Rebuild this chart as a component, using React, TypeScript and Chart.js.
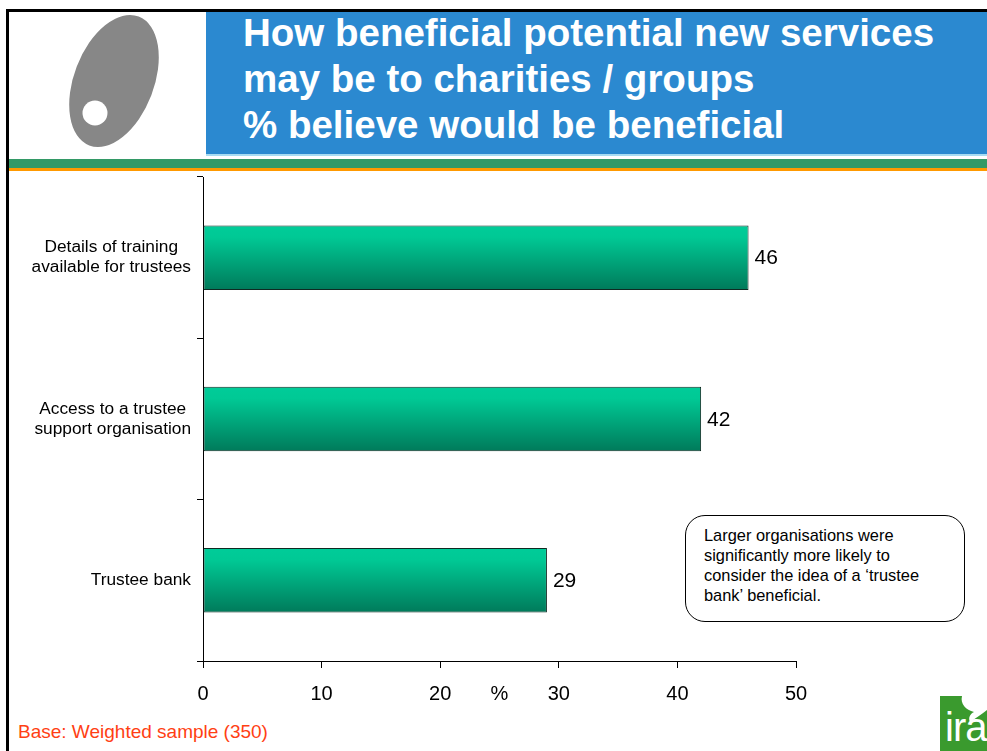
import React, { useEffect, useRef } from "react";
import { Chart, registerables } from "chart.js";

Chart.register(...registerables);

const categories: string[][] = [
  ["Details of training", "available for trustees"],
  ["Access to a trustee", "support organisation"],
  ["Trustee bank"],
];
const values: number[] = [46, 42, 29];
const xTicks: number[] = [0, 10, 20, 30, 40, 50];
const axisTitle = "%";
const titleLines: string[] = [
  "How beneficial potential new services",
  "may be to charities / groups",
  "% believe would be beneficial",
];
const noteLines: string[] = [
  "Larger organisations were",
  "significantly more likely to",
  "consider the idea of a \u2018trustee",
  "bank\u2019 beneficial.",
];
const footer = "Base: Weighted sample (350)";

const FONT = "'Liberation Sans', Arial, Helvetica, sans-serif";

export default function App() {
  const canvasRef = useRef<HTMLCanvasElement | null>(null);

  useEffect(() => {
    document.body.style.margin = "0";
    const canvas = canvasRef.current;
    if (!canvas) return;

    const labelPlugin = {
      id: "valueLabels",
      afterDatasetsDraw(chart: any) {
        const ctx = chart.ctx;
        const meta = chart.getDatasetMeta(0);
        ctx.save();
        ctx.font = `21px ${FONT}`;
        ctx.fillStyle = "#000";
        ctx.textAlign = "left";
        ctx.textBaseline = "middle";
        meta.data.forEach((bar: any, i: number) => {
          ctx.fillText(String(values[i]), bar.x + 6, bar.y + 1);
        });
        const xs = chart.scales.x;
        ctx.font = `20px ${FONT}`;
        ctx.textAlign = "center";
        ctx.fillText(axisTitle, xs.getPixelForValue(25), xs.top + 33);

        // category labels: block right-aligned, lines centred within the block
        const ys = chart.scales.y;
        ctx.font = `17.3px ${FONT}`;
        const right = ys.right - 12;
        const lh = 20;
        categories.forEach((lines, i) => {
          const cy = ys.getPixelForValue(i);
          const widest = Math.max(...lines.map((l) => ctx.measureText(l).width));
          const cx = right - widest / 2;
          const y0 = cy - ((lines.length - 1) * lh) / 2;
          lines.forEach((l, j) => ctx.fillText(l, cx, y0 + j * lh));
        });
        ctx.restore();
      },
    };

    const chart = new Chart(canvas, {
      type: "bar",
      data: {
        labels: categories,
        datasets: [
          {
            data: values,
            backgroundColor: (c: any) => {
              const ch = c.chart;
              const ys = ch.scales && ch.scales.y;
              if (!ys || c.dataIndex === undefined || !ys.height) return "#00b386";
              const center = ys.getPixelForValue(c.dataIndex);
              const half = (ys.height / categories.length) * 0.4 / 2;
              const g = ch.ctx.createLinearGradient(0, center - half, 0, center + half);
              g.addColorStop(0, "#00CC99");
              g.addColorStop(0.18, "#00C995");
              g.addColorStop(1, "#007A5A");
              return g;
            },
            borderColor: "#0f2a22",
            borderWidth: 1,
            borderSkipped: false,
            categoryPercentage: 1,
            barPercentage: 0.4,
          },
        ],
      },
      options: {
        indexAxis: "y",
        responsive: false,
        animation: false,
        layout: { padding: { top: 6, right: 191, left: 0, bottom: 0 } },
        plugins: {
          legend: { display: false },
          tooltip: { enabled: false },
        },
        scales: {
          x: {
            min: 0,
            max: 50,
            afterFit: (s: any) => {
              s.height = 50;
            },
            afterBuildTicks: (s: any) => {
              s.ticks = xTicks.map((v) => ({ value: v }));
            },
            ticks: {
              color: "#000",
              font: { family: FONT, size: 20 },
              padding: 14,
            },
            grid: {
              drawOnChartArea: false,
              drawTicks: true,
              tickLength: 7,
              color: "#000",
            },
            border: { color: "#000", width: 1 },
          },
          y: {
            afterFit: (s: any) => {
              s.width = 203;
            },
            ticks: {
              display: false,
            },
            grid: {
              drawOnChartArea: false,
              drawTicks: true,
              tickLength: 6,
              color: "#000",
              offset: true,
            },
            border: { color: "#000", width: 1 },
          },
        },
      },
      plugins: [labelPlugin],
    } as any);

    return () => chart.destroy();
  }, []);

  return (
    <div
      style={{
        position: "relative",
        width: 987,
        height: 751,
        overflow: "hidden",
        background: "#fff",
        fontFamily: FONT,
      }}
    >
      {/* chart */}
      <canvas
        ref={canvasRef}
        width={987}
        height={540}
        style={{ position: "absolute", left: 0, top: 171, width: 987, height: 540 }}
      />

      {/* frame lines */}
      <div style={{ position: "absolute", left: 6, top: 9, width: 981, height: 3, background: "#000" }} />
      <div style={{ position: "absolute", left: 6, top: 9, width: 3, height: 742, background: "#000" }} />

      {/* logo top-left */}
      <svg style={{ position: "absolute", left: 0, top: 0 }} width={206} height={156}>
        <ellipse cx={114} cy={81} rx={40} ry={69} fill="#878787" transform="rotate(21 114 81)" />
        <circle cx={95} cy={113} r={12.5} fill="#fff" />
      </svg>

      {/* header */}
      <div style={{ position: "absolute", left: 206, top: 12, width: 781, height: 143, background: "#2B89D0" }} />
      <div style={{ position: "absolute", left: 206, top: 154, width: 781, height: 2, background: "#A8DCF2" }} />
      <div
        style={{
          position: "absolute",
          left: 243,
          top: 10,
          color: "#fff",
          fontWeight: "bold",
          fontSize: 38.5,
          lineHeight: "46px",
          whiteSpace: "nowrap",
        }}
      >
        {titleLines.map((l, i) => (
          <div key={i}>{l}</div>
        ))}
      </div>
      <div style={{ position: "absolute", left: 9, top: 159, width: 978, height: 9, background: "#339966" }} />
      <div style={{ position: "absolute", left: 9, top: 168, width: 978, height: 3, background: "#FF9900" }} />

      {/* note box */}
      <div
        style={{
          position: "absolute",
          left: 685,
          top: 515,
          width: 278,
          height: 105,
          border: "1px solid #000",
          borderRadius: 20,
          background: "#fff",
          boxSizing: "content-box",
        }}
      >
        <div
          style={{
            position: "absolute",
            left: 18,
            top: 9,
            fontSize: 16.4,
            lineHeight: "20px",
            color: "#000",
            whiteSpace: "nowrap",
          }}
        >
          {noteLines.map((l, i) => (
            <div key={i}>{l}</div>
          ))}
        </div>
      </div>

      {/* footer */}
      <div
        style={{
          position: "absolute",
          left: 18,
          top: 720,
          fontSize: 19,
          lineHeight: "24px",
          color: "#FF3F14",
          whiteSpace: "nowrap",
        }}
      >
        {footer}
      </div>

      {/* logo bottom-right */}
      <div
        style={{
          position: "absolute",
          left: 940,
          top: 696,
          width: 47,
          height: 55,
          background: "#3A9A2E",
          overflow: "hidden",
        }}
      >
        <svg style={{ position: "absolute", left: 0, top: 0 }} width={47} height={55}>
          <path d="M22 0 C20 8 26 14 34 16 C30 18 28 22 30 26 C36 22 42 18 47 14 L47 0 Z" fill="#fff" />
        </svg>
        <div
          style={{
            position: "absolute",
            left: 5,
            top: 10,
            color: "#fff",
            fontSize: 40,
            lineHeight: "42px",
            letterSpacing: -1,
          }}
        >
          ira
        </div>
      </div>
    </div>
  );
}
